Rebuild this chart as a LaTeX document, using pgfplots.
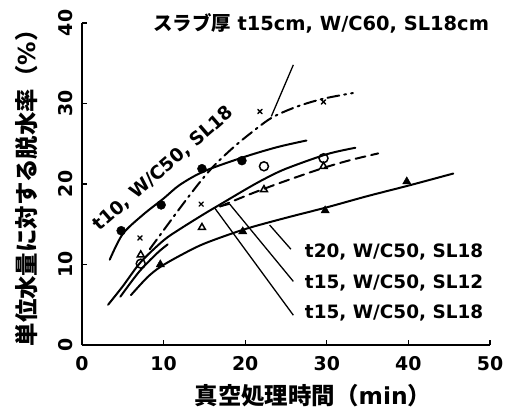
\documentclass[border=0pt]{standalone}
\usepackage{pgfplots}
\pgfplotsset{compat=1.18}
\usepackage{fontspec}
\setmainfont{DejaVu Sans}
\newfontfamily\jp{Noto Sans CJK JP}
\begin{document}
\begin{tikzpicture}
\begin{axis}[
  scale only axis, width=408bp, height=322bp,
  xmin=0, xmax=50, ymin=0, ymax=40,
  clip=false,
  axis lines=left, axis line style={-, line width=1.4bp},
  xtick={0,10,20,30,40,50}, ytick={0,10,20,30,40},
  tick align=inside, major tick length=5bp,
  tick style={line width=1.2bp, black},
  /pgf/number format/assume math mode=true,
  ticklabel style={font=\fontsize{19}{22}\selectfont\bfseries, inner sep=0pt},
  xticklabel shift=11bp,
  yticklabel style={rotate=90, anchor=south},
  yticklabel shift=9bp,
  xlabel={{\jp 真空処理時間（}min{\jp ）}},
  ylabel={{\jp 単位水量に対する脱水率（}\%{\jp ）}},
  every axis x label/.style={at={(axis description cs:0.566,-0.158)}, anchor=center, font=\fontsize{23.5}{26}\selectfont\bfseries},
  every axis y label/.style={at={(axis description cs:-0.135,0.505)}, rotate=90, anchor=center, font=\fontsize{23.5}{26}\selectfont\bfseries},
  every axis plot/.append style={line cap=round},
]
% t10, W/C50, SL18
\addplot[black, line width=2bp, smooth] coordinates {(3.4,10.6)(5,13.8)(7.5,16.2)(10,18.2)(12,19.9)(15,21.6)(20,23.4)(24,24.6)(27.5,25.4)};
% t15, W/C60, SL18 (dash-dot)
\addplot[black, line width=2bp, smooth, dash pattern=on 12bp off 5bp on 2bp off 5bp] coordinates {(8.3,11.9)(12,17.0)(14.5,20.3)(16.3,22.4)(18.5,24.5)(20.4,26.1)(23.2,28.2)(26.3,29.6)(29.6,30.6)(33.2,31.3)};
% t15, W/C50, SL18
\addplot[black, line width=2bp, smooth] coordinates {(3.2,5.0)(5,7.3)(7.2,10.3)(10,13.0)(12,14.4)(15,16.3)(17,17.5)(20,19.3)(22.3,20.6)(25,21.9)(30,23.7)(33.5,24.5)};
% t15, W/C50, SL12
\addplot[black, line width=2bp, smooth] coordinates {(4.7,6.0)(7,9.1)(9.2,11.4)(10.5,12.5)};
\addplot[black, line width=2bp, smooth, dash pattern=on 10bp off 6bp] coordinates {(16.9,17.2)(20,18.5)(22.3,19.4)(25,20.4)(29.6,22.0)(33,23.0)(36.3,23.8)};
% t20, W/C50, SL18
\addplot[black, line width=2bp, smooth] coordinates {(6.0,6.2)(8,8.4)(9.6,9.7)(12,11.1)(15,12.6)(20,14.4)(25,15.8)(30,17.1)(35,18.5)(40,19.8)(45.5,21.3)};
% markers
\addplot[only marks, mark=*, mark size=4.5bp, black] coordinates {(4.8,14.2)(9.7,17.4)(14.7,21.9)(19.6,22.9)};
\addplot[only marks, mark=x, mark size=3bp, black, mark options={line width=1.4bp}] coordinates {(7.1,13.3)(14.6,17.5)(21.8,29.0)(29.6,30.2)};
\addplot[only marks, mark=o, mark size=4.5bp, black, mark options={fill=white, line width=1.5bp}] coordinates {(7.2,10.1)(22.3,22.2)(29.6,23.2)};
\addplot[only marks, mark=triangle, mark size=4bp, black, mark options={fill=white, line width=1.5bp}] coordinates {(7.2,11.2)(14.7,14.6)(22.3,19.3)(29.6,22.2)};
\addplot[only marks, mark=triangle*, mark size=4.8bp, black] coordinates {(9.6,10.0)(19.7,14.1)(29.8,16.7)(39.8,20.3)};
% leaders
\draw[line width=1.3bp] (axis cs:25.9,34.8) -- (axis cs:23.2,28.4);
\draw[line width=1.3bp] (axis cs:25.6,11.9) -- (axis cs:23.0,14.9);
\draw[line width=1.3bp] (axis cs:16.9,17.2) -- (axis cs:18.1,17.5) -- (axis cs:25.9,7.9);
\draw[line width=1.3bp] (axis cs:16.2,17.1) -- (axis cs:25.9,3.7);
% labels
\node[font=\fontsize{19.5}{22}\selectfont\bfseries, inner sep=0pt] at (axis cs:29.3,40.0) {{\jp スラブ厚} t15cm, W/C60, SL18cm};
\node[font=\fontsize{18.5}{22}\selectfont\bfseries, inner sep=0pt, rotate=41] at (axis cs:10.0,21.9) {t10, W/C50, SL18};
\node[font=\fontsize{18.5}{22}\selectfont\bfseries, inner sep=0pt, anchor=west] at (axis cs:27.3,11.6) {t20, W/C50, SL18};
\node[font=\fontsize{18.5}{22}\selectfont\bfseries, inner sep=0pt, anchor=west] at (axis cs:27.3,7.7) {t15, W/C50, SL12};
\node[font=\fontsize{18.5}{22}\selectfont\bfseries, inner sep=0pt, anchor=west] at (axis cs:27.3,4.0) {t15, W/C50, SL18};
\coordinate (O) at (axis cs:0,0);
\end{axis}
\path (O) ++(-82bp,-74bp) rectangle ++(512bp,419bp);
\end{tikzpicture}
\end{document}
